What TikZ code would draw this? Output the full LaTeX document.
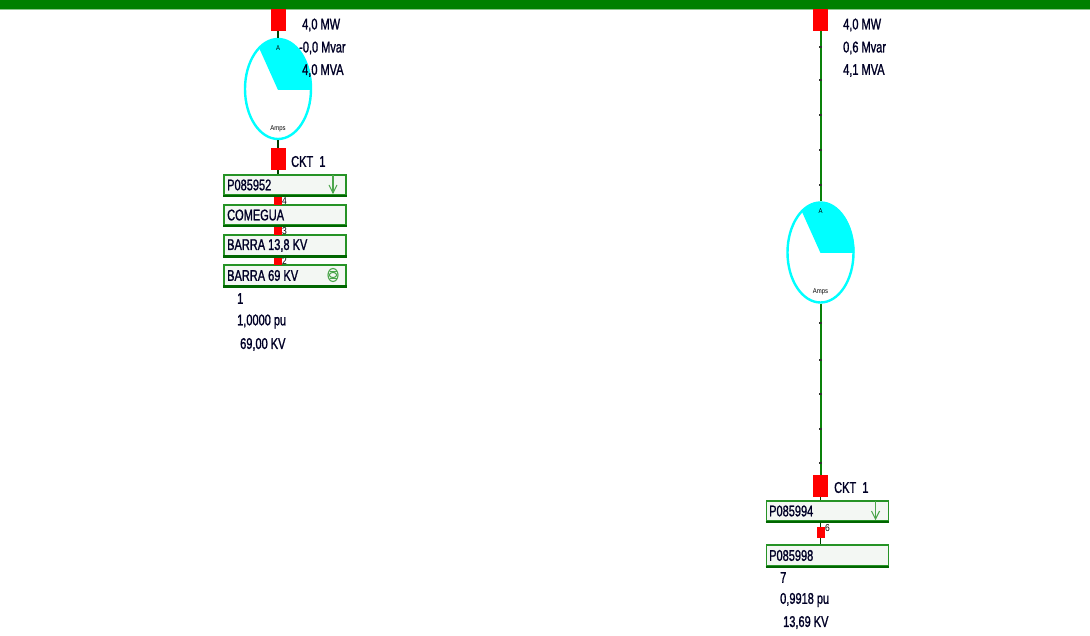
\documentclass[tikz,border=0pt]{standalone}
\usepackage{fontspec}
\setmainfont[FakeStretch=0.71,FakeBold=1.2]{Liberation Sans}
\newfontfamily\thinfont[FakeStretch=0.85]{Liberation Sans}
\usetikzlibrary{shapes.geometric}
\definecolor{busgreen}{RGB}{0,128,0}
\definecolor{busfill}{RGB}{243,247,243}
\definecolor{linegreen}{RGB}{10,130,10}
\definecolor{meter}{RGB}{0,255,255}
\tikzset{
  lbl/.style={anchor=west,inner sep=0pt,font=\fontsize{15.5}{15.5}\selectfont,text=black!85!blue},
  tiny/.style={inner sep=0pt,font=\thinfont\fontsize{7}{7}\selectfont},
  small/.style={anchor=west,inner sep=0pt,font=\thinfont\fontsize{10}{10}\selectfont},
  busbox/.style={draw=busgreen!85!white,line width=1.9pt,fill=busfill,minimum width=122pt,minimum height=20.5pt,inner sep=0pt},
  busedge/.style={draw=busgreen!80!black,line width=2.4pt},
  brk/.style={fill=red,inner sep=0pt,minimum width=15pt,minimum height=22pt},
  sbrk/.style={fill=red,inner sep=0pt,minimum width=8pt,minimum height=10pt},
  wire/.style={draw=linegreen,line width=2pt},
  stub/.style={draw=black!50!busgreen,line width=1.3pt},
  gauge/.style={draw=meter,line width=2.4pt,fill=white,ellipse,inner sep=0pt,minimum width=66pt,minimum height=100pt},
  icon/.style={draw=busgreen!70!white,line width=1.1pt},
  tick/.style={draw=black!80,line width=1.2pt}
}
\begin{document}
\begin{tikzpicture}[x=1pt,y=-1pt]
\useasboundingbox (0,0) rectangle (1090,636);
\fill[white] (0,0) rectangle (1090,636);
\fill[busgreen] (0,0) rectangle (1090,9);
\fill[busgreen!45!white] (0,9) rectangle (1090,10);

% left branch
\node[gauge] (gaugeL) at (278,89) {};
\fill[meter] (278,90) -- (312,90) arc[start angle=0,end angle=-124,x radius=34,y radius=51] -- cycle;
\node[brk] (brkL1) at (278,20) {};
\node[brk] (brkL2) at (278,159) {};
\node[busbox] (busP952) at (285,185) {};
\node[busbox] (busCOM) at (285,215) {};
\node[busbox] (bus138) at (285,245.5) {};
\node[busbox] (bus69) at (285,275.5) {};
\draw[stub] (brkL1) -- (gaugeL);
\draw[stub] (gaugeL) -- (brkL2);
\draw[stub] (brkL2) -- (278,174);
\node[sbrk] (s4) at (278,200) {};
\node[sbrk] (s3) at (278,230) {};
\node[sbrk] (s2) at (278,260.5) {};
\node[tiny] (aL) at (278,48) {A};
\node[tiny] (ampsL) at (278,129) {Amps};
\node[lbl] (mwL) at (302,25) {4,0 MW};
\node[lbl] (mvarL) at (299,48) {-0,0 Mvar};
\node[lbl] (mvaL) at (302,70.5) {4,0 MVA};
\node[lbl] (cktL) at (291,161.5) {CKT\ \ 1};
\node[lbl] (tP952) at (227,185) {P085952};
\node[lbl] (tCOM) at (227,215) {COMEGUA};
\node[lbl] (t138) at (227,245.5) {BARRA 13,8 KV};
\node[lbl] (t69) at (227,275.5) {BARRA 69 KV};
\node[small] (n4) at (282,201) {4};
\node[small] (n3) at (282,231) {3};
\node[small] (n2) at (282,261) {2};
\node[lbl] (n1) at (237,298.5) {1};
\node[lbl] (puL) at (237,321.5) {1,0000 pu};
\node[lbl] (kvL) at (240,344.5) {69,00 KV};
% load arrow
\draw[icon] (333,175) -- (333,193);
\draw[icon] (329,185) -- (333,193) -- (337,185);
% generator symbol
\draw[icon] (333,275) ellipse[x radius=5,y radius=6.5];
\draw[icon] (329.5,271.5) -- (336.5,271.5);
\draw[icon] (329.5,278.5) -- (336.5,278.5);
\draw[icon] (329,275) .. controls (331,271.5) and (335,271.5) .. (337,275);
\draw[icon] (329,275) .. controls (331,278.5) and (335,278.5) .. (337,275);

% right branch
\node[gauge] (gaugeR) at (820.5,252.5) {};
\fill[meter] (820.5,253) -- (854.5,253) arc[start angle=0,end angle=-124,x radius=34,y radius=51] -- cycle;
\node[brk] (brkR1) at (820.5,20) {};
\node[brk] (brkR2) at (820.5,486) {};
\node[busbox] (busP994) at (827.5,511) {};
\node[busbox] (busP998) at (827.5,555.5) {};
\draw[wire] (brkR1) -- (gaugeR);
\draw[wire] (gaugeR) -- (brkR2);
\draw[stub] (brkR2) -- (820.5,500);
\draw[stub] (820.5,522) -- (820.5,544);
\node[sbrk,minimum height=11pt] (s6) at (820.5,532.5) {};
\foreach \ty in {47,80,115,150,185,323,360,394,429,463}
  \draw[tick] (819,\ty) -- (822,\ty);
\node[tiny] (aR) at (820.5,211) {A};
\node[tiny] (ampsR) at (820.5,292) {Amps};
\node[lbl] (mwR) at (843,25) {4,0 MW};
\node[lbl] (mvarR) at (843,48) {0,6 Mvar};
\node[lbl] (mvaR) at (843,70.5) {4,1 MVA};
\node[lbl] (cktR) at (834,487.5) {CKT\ \ 1};
\node[lbl] (tP994) at (769,511) {P085994};
\node[lbl] (tP998) at (769,555.5) {P085998};
\node[small] (n6) at (825,528) {6};
\node[lbl] (n7) at (780,577.5) {7};
\node[lbl] (puR) at (780,600) {0,9918 pu};
\node[lbl] (kvR) at (783,622.5) {13,69 KV};
\draw[icon] (875.5,501) -- (875.5,519);
\draw[icon] (871.5,511) -- (875.5,519) -- (879.5,511);
\foreach \b in {busP952,busCOM,bus138,bus69,busP994,busP998}
  \draw[busedge] (\b.south west) -- (\b.south east);
\end{tikzpicture}
\end{document}
